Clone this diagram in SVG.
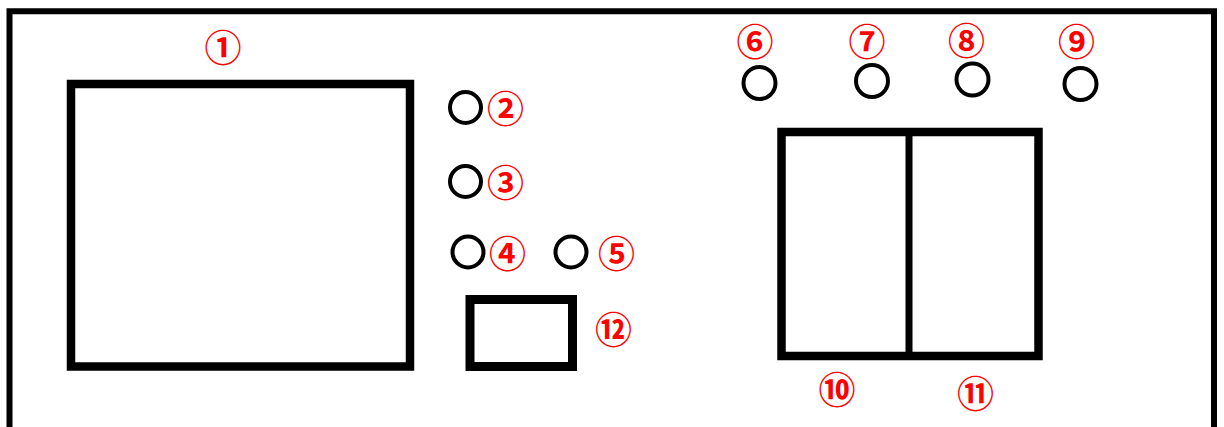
<svg xmlns="http://www.w3.org/2000/svg" width="1224" height="427" viewBox="0 0 1224 427">
<style>
.box{fill:none;stroke:#000;stroke-width:8.5}
.knob{fill:none;stroke:#000;stroke-width:4}
.lbl{fill:#ff0000;font-family:"Noto Sans CJK SC","DejaVu Sans",sans-serif;font-size:37px;font-weight:bold;text-anchor:middle;dominant-baseline:central}
</style>
<rect width="1224" height="427" fill="#fff"/>
<g id="frame">
<path d="M9.5,430 V11.3 H1214 V430" fill="none" stroke="#000" stroke-width="6"/>
</g>
<g id="n1">
<rect class="box" x="71" y="84" width="339" height="282.5"/>
<text class="lbl" x="223" y="46">①</text>
</g>
<g id="n2">
<circle class="knob" cx="465.5" cy="107.5" r="15.5"/>
<text class="lbl" x="505.5" y="107">②</text>
</g>
<g id="n3">
<circle class="knob" cx="465.5" cy="181.5" r="15.5"/>
<text class="lbl" x="505.5" y="181">③</text>
</g>
<g id="n4">
<circle class="knob" cx="468" cy="252" r="15.5"/>
<text class="lbl" x="507.5" y="251.5">④</text>
</g>
<g id="n5">
<circle class="knob" cx="571" cy="252" r="15.5"/>
<text class="lbl" x="616.5" y="251.5">⑤</text>
</g>
<g id="n6">
<circle class="knob" cx="759.5" cy="83" r="16"/>
<text class="lbl" x="755" y="40">⑥</text>
</g>
<g id="n7">
<circle class="knob" cx="872" cy="81" r="16"/>
<text class="lbl" x="867" y="40">⑦</text>
</g>
<g id="n8">
<circle class="knob" cx="972.5" cy="79.5" r="16"/>
<text class="lbl" x="966.5" y="39">⑧</text>
</g>
<g id="n9">
<circle class="knob" cx="1080.5" cy="84" r="16"/>
<text class="lbl" x="1076.5" y="40">⑨</text>
</g>
<g id="n10">
<path class="box" d="M909,132 H781.5 V356 H909"/>
<text class="lbl" x="837" y="388">⑩</text>
</g>
<g id="n11">
<path class="box" d="M909,132 H1038.5 V356 H909"/>
<line x1="909" y1="132" x2="909" y2="356" stroke="#000" stroke-width="7"/>
<text class="lbl" x="975.5" y="391.5">⑪</text>
</g>
<g id="n12">
<rect class="box" x="470" y="299.5" width="102.5" height="67" style="stroke-width:9"/>
<text class="lbl" x="613.5" y="328">⑫</text>
</g>
<g id="connectors"></g>
</svg>
